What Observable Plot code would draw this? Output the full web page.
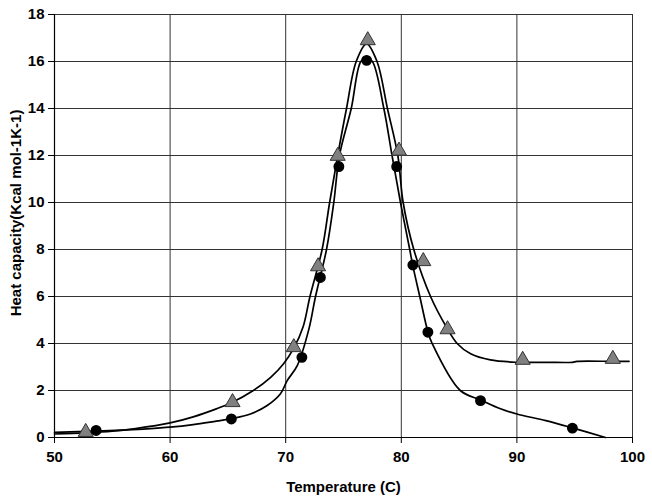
<!DOCTYPE html>
<html>
<head>
<meta charset="utf-8">
<script src="https://cdn.jsdelivr.net/npm/d3@7"></script>
<script src="https://cdn.jsdelivr.net/npm/@observablehq/plot@0.6"></script>
<style>
  html, body { margin: 0; padding: 0; background: #fff; }
  #chart { width: 652px; height: 499px; }
</style>
</head>
<body>
<div id="chart"></div>
<script>
// Measured markers (triangles = grey, circles = black)
const triTemp = [52.7, 65.4, 70.7, 72.8, 74.5, 77.1, 79.8, 81.9, 84.0, 90.5, 98.3];
const triCp   = [0.23, 1.5, 3.84, 7.28, 11.98, 16.9, 12.2, 7.5, 4.6, 3.3, 3.34];
const cirTemp = [53.6, 65.3, 71.4, 73.0, 74.6, 77.0, 79.6, 81.0, 82.3, 86.85, 94.8];
const cirCp   = [0.3, 0.79, 3.41, 6.81, 11.53, 16.05, 11.53, 7.34, 4.48, 1.57, 0.4];

// Fitted curves
const triCurveT  = [50, 52.7, 55, 57, 60, 62, 64, 65.3, 67.2, 68.7, 69.8, 70.7, 71.5, 72.1, 73.15, 73.8, 74.5, 75.26, 76.1, 77.0, 77.9, 78.8, 79.7, 80.16, 81.08, 82.53, 83.9, 84.83, 86.0, 87.7, 90.0, 92.5, 94.8, 95.2, 98.3, 99.7];
const triCurveCp = [0.15, 0.2, 0.27, 0.38, 0.62, 0.88, 1.22, 1.48, 2.0, 2.56, 3.13, 3.8, 4.7, 6.0, 8.0, 10.0, 12.0, 14.0, 16.0, 16.75, 16.0, 14.0, 12.0, 10.0, 8.0, 6.0, 4.7, 4.0, 3.56, 3.3, 3.2, 3.2, 3.2, 3.24, 3.24, 3.24];
const cirCurveT  = [50, 53.6, 56, 58, 60, 62, 64, 65.3, 66.95, 68.4, 69.55, 70.13, 71.0, 72.0, 72.58, 73.53, 74.16, 74.65, 75.67, 76.5, 77.0, 77.5, 78.49, 79.2, 79.93, 80.73, 81.0, 81.6, 82.3, 82.67, 85.1, 86.85, 88.58, 90.0, 92.5, 94.8, 97.66];
const cirCurveCp = [0.22, 0.27, 0.32, 0.37, 0.44, 0.55, 0.7, 0.8, 1.0, 1.36, 1.86, 2.42, 3.06, 4.6, 6.0, 8.0, 10.0, 12.0, 14.0, 16.0, 16.15, 16.0, 14.0, 12.0, 10.0, 8.0, 7.3, 6.0, 4.5, 4.0, 2.0, 1.6, 1.22, 1.0, 0.72, 0.41, 0.0];

const xTicks = [50, 60, 70, 80, 90, 100];
const yTicks = [0, 2, 4, 6, 8, 10, 12, 14, 16, 18];
const xTitle = "Temperature (C)";
const yTitle = "Heat capacity(Kcal mol-1K-1)";

const triPts = triTemp.map((t, i) => ({t, cp: triCp[i]}));
const cirPts = cirTemp.map((t, i) => ({t, cp: cirCp[i]}));
const triCurve = triCurveT.map((t, i) => ({t, cp: triCurveCp[i]}));
const cirCurve = cirCurveT.map((t, i) => ({t, cp: cirCurveCp[i]}));

const chart = Plot.plot({
  width: 652,
  height: 499,
  marginLeft: 54,
  marginRight: 20,
  marginTop: 14,
  marginBottom: 62,
  style: {fontFamily: "'Liberation Sans', Arial, sans-serif", fontSize: "15px", fontWeight: "bold", color: "#000", background: "#fff", overflow: "visible"},
  x: {domain: [50, 100]},
  y: {domain: [0, 18]},
  marks: [
    Plot.gridX(xTicks, {stroke: "#333", strokeOpacity: 1, strokeWidth: 1}),
    Plot.gridY(yTicks, {stroke: "#333", strokeOpacity: 1, strokeWidth: 1}),
    Plot.frame({stroke: "#333", strokeWidth: 1}),
    Plot.line(triCurve, {x: "t", y: "cp", curve: "catmull-rom", stroke: "#000", strokeWidth: 1.7}),
    Plot.line(cirCurve, {x: "t", y: "cp", curve: "catmull-rom", stroke: "#000", strokeWidth: 1.7}),
    Plot.dot(triPts, {x: "t", y: "cp", symbol: "triangle", r: 5.6, fill: "#808080", stroke: "#333", strokeWidth: 1}),
    Plot.dot(cirPts, {x: "t", y: "cp", r: 4.7, fill: "#000", stroke: "#000"}),
    Plot.axisX(xTicks, {tickSize: 6, tickPadding: 8, label: xTitle, labelAnchor: "center", labelArrow: "none", labelOffset: 54, fontSize: 15, fontWeight: "bold"}),
    Plot.axisY(yTicks, {tickSize: 6, tickPadding: 4, label: null, fontSize: 15, fontWeight: "bold"}),
    Plot.text([yTitle], {frameAnchor: "left", textAnchor: "middle", text: d => d, rotate: -90, dx: -38, dy: -13, fontSize: 15, fontWeight: "bold", fill: "#000"}),
    Plot.ruleX([50], {stroke: "#000", strokeWidth: 1.2}),
    Plot.ruleY([0], {stroke: "#000", strokeWidth: 1.2})
  ]
});
document.getElementById("chart").appendChild(chart);
</script>
</body>
</html>
